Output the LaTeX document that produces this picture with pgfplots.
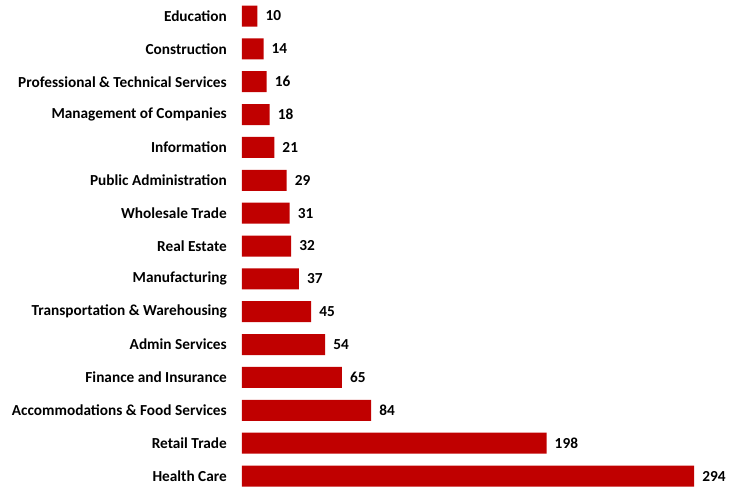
\documentclass[border=0pt]{standalone}
\usepackage{pgfplots}
\pgfplotsset{compat=1.18}
\usepackage{fontspec}
\setmainfont{Carlito}
\definecolor{barred}{HTML}{C00000}
\begin{document}
\begin{tikzpicture}[x=1pt,y=1pt]
\useasboundingbox (0,0) rectangle (729,488);
\begin{axis}[
  at={(242pt,-4.47pt)}, anchor=south west,
  scale only axis,
  width=484.5pt, height=492.9pt,
  xbar, bar width=21pt,
  xmin=0, xmax=315,
  ymin=-0.5, ymax=14.5,
  y dir=reverse,
  axis line style={draw=none},
  ytick={0,...,14},
  yticklabels={Education,Construction,Professional \& Technical Services,Management of Companies,Information,Public Administration,Wholesale Trade,Real Estate,Manufacturing,Transportation \& Warehousing,Admin Services,Finance and Insurance,Accommodations \& Food Services,Retail Trade,Health Care},
  xtick=\empty,
  major tick length=0pt,
  tick style={draw=none},
  /pgf/number format/assume math mode=true,
  ticklabel style={font=\fontsize{15.3}{17}\selectfont\bfseries},
  yticklabel style={anchor=east, inner sep=0pt, xshift=-15pt},
  nodes near coords,
  nodes near coords style={font=\fontsize{15.3}{17}\selectfont\bfseries, anchor=west, inner sep=0pt, xshift=8pt, text=black},
]
\addplot[fill=barred, draw=none] coordinates {
(10,0) (14,1) (16,2) (18,3) (21,4) (29,5) (31,6) (32,7) (37,8) (45,9) (54,10) (65,11) (84,12) (198,13) (294,14)
};
\end{axis}
\end{tikzpicture}
\end{document}
